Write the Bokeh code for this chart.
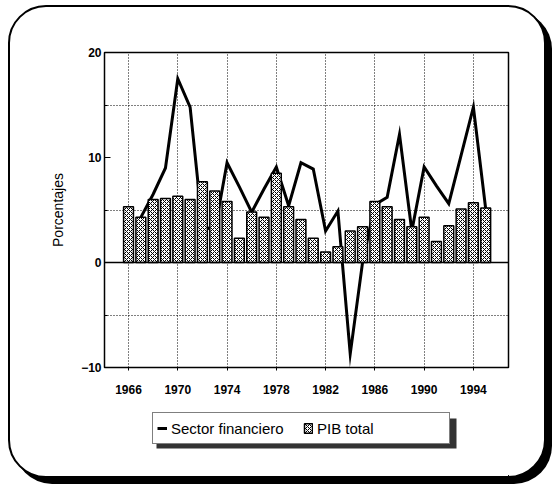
from bokeh.plotting import figure
from bokeh.layouts import column
from bokeh.models import (FixedTicker, Span, Legend, LegendItem, Range1d,
                          BoxAnnotation)
from bokeh.embed import file_html
from bokeh.resources import INLINE

# ---- data -------------------------------------------------------------
years_pib = list(range(1966, 1996))
pib_total = [5.3, 4.3, 6.0, 6.1, 6.3, 6.0, 7.7, 6.8, 5.8, 2.3,
             4.8, 4.3, 8.5, 5.3, 4.1, 2.3, 1.0, 1.5, 3.0, 3.4,
             5.8, 5.3, 4.1, 3.4, 4.3, 2.0, 3.5, 5.1, 5.7, 5.2]

years_fin = list(range(1967, 1996))
sector_financiero = [4.3, 6.5, 9.0, 17.5, 14.8, 3.5, 3.0, 9.5, 7.2, 4.8,
                     7.0, 9.1, 5.4, 9.5, 8.9, 3.0, 4.9, -8.7, 0.0, 5.5,
                     6.2, 12.2, 3.0, 9.1, 7.3, 5.6, 10.2, 14.8, 5.1]

x_ticks = [1966, 1970, 1974, 1978, 1982, 1986, 1990, 1994]
y_ticks = [-10, 0, 10, 20]
y_grid = [-5, 5, 15]

FONT = "Liberation Sans"
LINE_STYLE = dict(line_width=3, line_color="black", line_join="miter")
BAR_STYLE = dict(fill_color="white", line_color="black", line_width=1.5,
                 hatch_pattern="diagonal_cross", hatch_color="black",
                 hatch_scale=4, hatch_weight=1)

# ---- main figure ------------------------------------------------------
p = figure(width=534, height=393, output_backend="svg", toolbar_location=None,
           x_range=Range1d(1964.05, 1996.85), y_range=Range1d(-10, 20),
           min_border_left=94, min_border_right=36, min_border_top=45,
           min_border_bottom=33)
p.outline_line_color = "black"
p.outline_line_width = 1.5
p.background_fill_color = "white"
p.border_fill_color = None

p.xgrid.ticker = FixedTicker(ticks=x_ticks)
p.ygrid.ticker = FixedTicker(ticks=y_grid)
for g in (p.xgrid, p.ygrid):
    g.grid_line_color = "black"
    g.grid_line_dash = "1 2"
    g.grid_line_width = 1

p.xaxis.ticker = FixedTicker(ticks=x_ticks)
p.yaxis.ticker = FixedTicker(ticks=y_ticks, minor_ticks=[-5, 5, 15])
for ax in (p.xaxis[0], p.yaxis[0]):
    ax.axis_line_color = "black"
    ax.major_tick_line_color = "black"
    ax.major_label_text_font = FONT
    ax.major_label_text_font_style = "bold"
    ax.major_label_text_font_size = "12px"
    ax.major_label_text_color = "black"
p.xaxis.major_tick_in = 0
p.xaxis.major_tick_out = 3
p.xaxis.minor_tick_line_color = None
p.xaxis.major_label_standoff = 14
p.yaxis.major_tick_in = 6
p.yaxis.major_tick_out = 0
p.yaxis.minor_tick_in = 3
p.yaxis.minor_tick_out = 0
p.yaxis.minor_tick_line_color = "black"
p.yaxis.major_label_standoff = 3
p.yaxis.axis_label = "Porcentajes"
p.yaxis.axis_label_text_font = FONT
p.yaxis.axis_label_text_font_style = "normal"
p.yaxis.axis_label_text_font_size = "14px"
p.yaxis.axis_label_text_color = "black"
p.yaxis.axis_label_standoff = 12

r_line = p.line(years_fin, sector_financiero, **LINE_STYLE)
r_bar = p.vbar(x=years_pib, top=pib_total, width=0.8, **BAR_STYLE)
p.add_layout(Span(location=0, dimension="width", line_color="black",
                  line_width=1.5))

# ---- legend strip (its frame is aligned with the main frame) ---------
q = figure(width=534, height=76, output_backend="svg", toolbar_location=None,
           x_range=Range1d(0, 404), y_range=Range1d(1000, 1076),
           x_axis_location=None, y_axis_location=None, min_border=0)
q.grid.visible = False
q.outline_line_color = None
q.background_fill_color = None
q.border_fill_color = None
# same series, lying outside this strip's visible range: only their legend
# glyphs are seen
k_line = q.line(years_fin, sector_financiero, **LINE_STYLE)
k_bar = q.vbar(x=years_pib, top=pib_total, width=0.8, **BAR_STYLE)
q.add_layout(BoxAnnotation(left=52, right=352, top=1058, bottom=1028,
                           fill_color="#333333", fill_alpha=1, line_color=None))
legend = Legend(items=[LegendItem(label="Sector financiero", renderers=[k_line]),
                       LegendItem(label="PIB total", renderers=[k_bar])],
                location=(48, 32), orientation="horizontal",
                border_line_color="black", border_line_width=1.2,
                background_fill_color="white", background_fill_alpha=1,
                padding=4, margin=0, spacing=4, glyph_width=10, glyph_height=12,
                label_standoff=4, label_height=22, label_width=128,
                label_text_font=FONT, label_text_font_size="15px",
                label_text_color="black")
q.add_layout(legend, "center")

layout = column(p, q, spacing=0,
                styles={"border": "2px solid black", "border-radius": "38px",
                        "box-shadow": "6px 6px 0px 0px black",
                        "background-color": "white",
                        "margin": "5px 0px 0px 8px"})

open("out.html", "w").write(file_html(layout, INLINE))
